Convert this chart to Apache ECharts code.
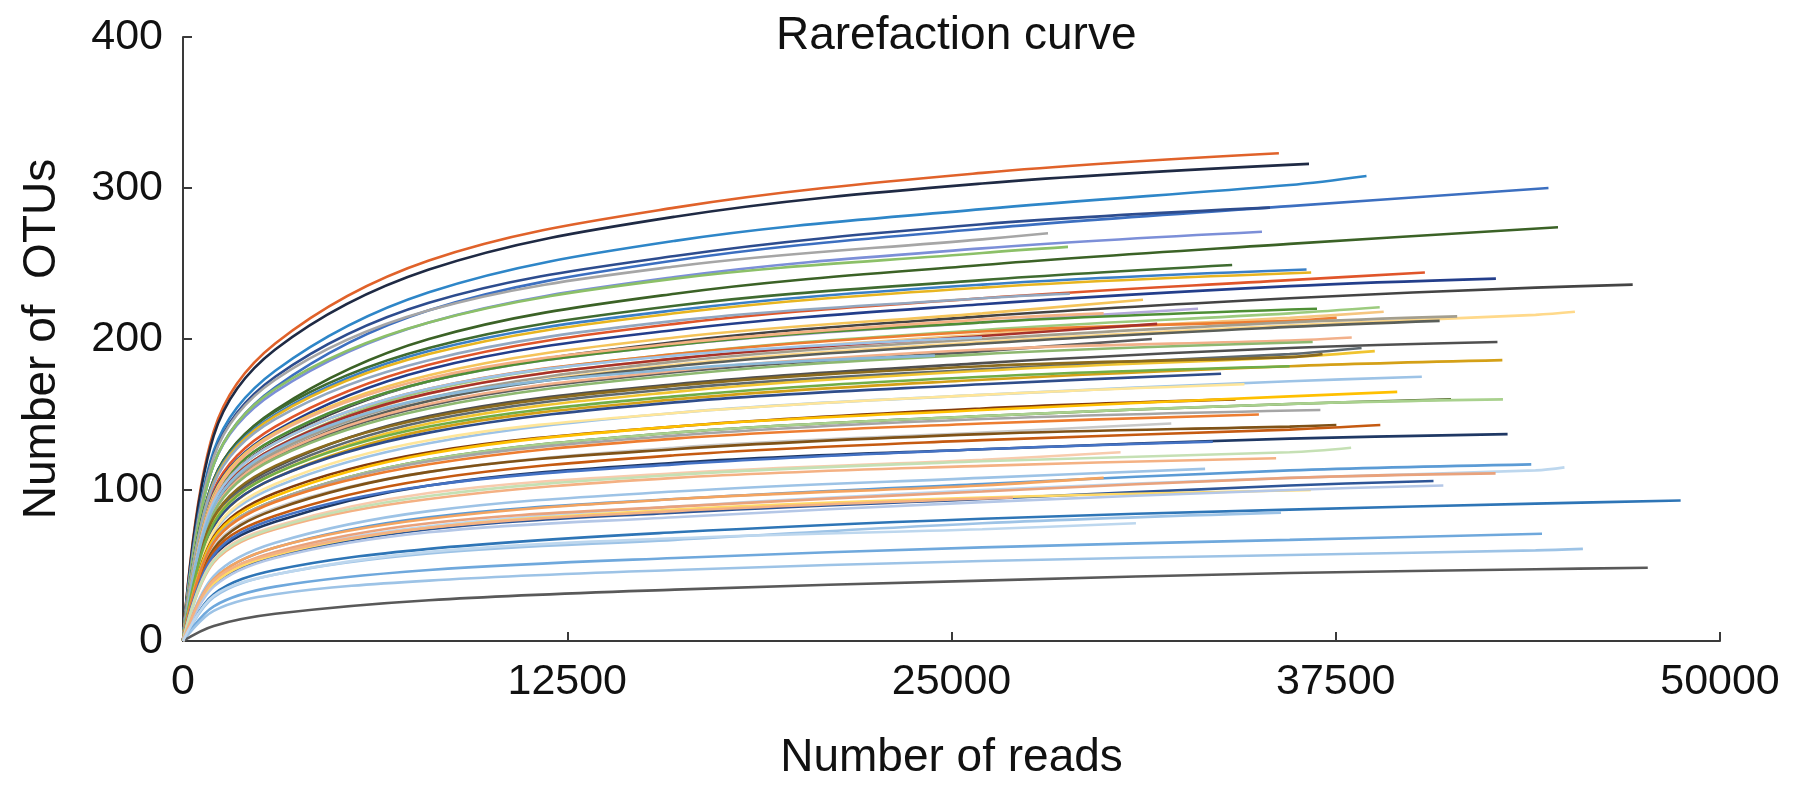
<!DOCTYPE html>
<html>
<head>
<meta charset="utf-8">
<script src="https://cdn.jsdelivr.net/npm/echarts@6/dist/echarts.min.js"></script>
<style>
html,body{margin:0;padding:0;background:#fff;}
#chart{width:1795px;height:789px;}
</style>
</head>
<body>
<div id="chart"></div>
<script>
const readsGrid = [1000, 3000, 8000, 16000, 26000, 36000, 44000];

// Last point of each curve (reads, OTUs)
const endReads = [35650,36630,38500,44420,35360,28140,35100,28790,44730,34130,
  36550,36700,40400,42710,47160,28850,31230,33020,36890,38930,
  39060,37530,45280,41450,40880,29950,31690,25990,31520,38020,
  36750,42760,38340,38770,37070,42920,33770,40300,34530,34240,
  41250,42940,32150,37520,38950,43090,35560,43860,44940,42700,
  33250,29950,40680,36690,48720,35720,44210,45540,47650,24460,
  36000,39500,37000,35000,33500,30500,38000,41000,27000,31000];
const endOtus = [323,316,308,300,287,270,271,261,274,249,
  246,244,244,240,236,230,226,220,220,221,
  218,214,218,215,212,217,210,201,200,201,
  198,198,194,192,190,186,177,175,170,160,
  160,160,144,143,143,137,121,117,115,111,
  114,108,106,100,93,85,71,61,48.5,189,
  182,165,153,150,132,125,128,103,95,78];

// OTU values of each curve at the readsGrid positions (as far as the curve reaches)
const gridOtus = [
  [139,197,252,287,310],[136,193,246,281,303],[126,179,231,265,286,302],[117,168,219,252,273,288],
  [123,175,224,255,276],[122,173,219,248,266],[117,165,211,241,260],[117,167,211,240,257],
  [107,153,200,230,249,263],[107,152,194,222,239],
  [106,150,192,219,236],[105,149,190,217,234],[100,142,183,210,227,239],[98,139,180,206,223,235],
  [92,132,172,198,215,227,234],[104,147,186,212,227],[97,138,176,201,217],[95,134,172,196,211],
  [95,134,172,196,211],[91,128,166,190,206,217],
  [89,126,164,187,203,214],[92,131,167,190,205,212],[85,122,159,183,198,209,216],[88,125,161,185,200,211],
  [87,123,159,182,197,208],[95,137,174,197,213],[90,128,164,187,202],[92,131,167,189],
  [86,122,156,178,192],[86,123,157,179,193,199],
  [85,121,154,176,190],[81,115,149,170,184,194],[80,113,146,167,180,190],[79,111,144,165,179,188],
  [82,116,148,169,182,188],[76,108,140,160,173,182],[76,108,138,158,170],[72,102,131,151,163,172],
  [73,104,133,151,163],[69,98,125,142,154],
  [66,93,120,138,149,157],[66,93,120,138,149,157],[62,88,112,128,138],[61,87,112,127,137,142],
  [59,83,107,123,133,140],[56,79,103,118,127,134],[52,74,94,108,116],[41,62,82,94,104,113],
  [38,58,76,89,100,108,113],[39,59,78,89,99,108],
  [43,65,86,99,108],[41,62,81,94,103],[37,56,74,85,94,103],[38,57,75,87,95],
  [31,47,61,72,81,87,91],[29,44,58,67,78],[23,36,47,55,62,67],[20,31,40,47,53,57,60],
  [10,18,27,34,40,45,47.5],[89,127,161,180],
  [78,111,142,162,175],[68,96,124,142,153,162],[66,93,119,136,147],[65,92,117,134,144],
  [57,81,103,117,127],[54,76,98,111,120],[53,75,96,110,119,125],[36,55,72,82,92,100],
  [40,58,75,86],[30,44,59,68,74]
];

const lineColors = ['#E0622A','#1F2A44','#2E86C8','#3C6FC0','#2D4C8E','#A6A6A6','#7C8FD8','#8CC068','#3B6226','#3F6B30',
  '#3A7FC6','#E8B520','#E0552A','#233E8B','#444444','#93A8C0','#F5C45A','#B4A9DA','#4E8F35','#9CCB7E',
  '#F6C680','#ED7D31','#FFD98A','#A39E8E','#5A5F5A','#F4B183','#A8322A','#9DC3E6','#5E5E5E','#F2B08A',
  '#8DB870','#505050','#5F6A70','#F0C430','#8B6B1E','#D4A017','#2F4D8A','#9DC3E6','#FFE699','#843C0C',
  '#556B2F','#A9D18E','#C9C9C9','#7F5217','#C55A11','#1F3864','#F4B183','#5B9BD5','#BDD7EE','#E9A27C',
  '#9DC3E6','#F4A460','#2E5597','#FFD966','#2E75B6','#9DC3E6','#6FA8DC','#9DC3E6','#595959','#8AB8D8',
  '#70AD47','#FFC000','#A5A5A5','#ED7D31','#4472C4','#F8CBAD','#C5E0B4','#B4C7E7','#F4B183','#BDD7EE'];

const xTicks = [0, 12500, 25000, 37500, 50000];
const yTicks = [0, 100, 200, 300, 400];

const series = endReads.map(function(e, i){
  const pts = [[0, 0]];
  gridOtus[i].forEach(function(v, j){ pts.push([readsGrid[j], v]); });
  pts.push([e, endOtus[i]]);
  return {
    type: 'line', data: pts, symbol: 'none', smooth: 0.35,
    lineStyle: {color: lineColors[i], width: 2.6}, silent: true, z: 2
  };
});

const FONT = "'Liberation Sans', Arial, sans-serif";
const chart = echarts.init(document.getElementById('chart'));
chart.setOption({
  animation: false,
  backgroundColor: '#ffffff',
  title: {
    text: 'Rarefaction curve', left: 771, top: 8,
    textStyle: {fontFamily: FONT, fontSize: 46, fontWeight: 'normal', color: '#111'}
  },
  grid: {left: 183, right: 75, top: 37, bottom: 148, containLabel: false},
  xAxis: {
    type: 'value', min: xTicks[0], max: xTicks[xTicks.length-1], interval: xTicks[1]-xTicks[0],
    name: 'Number of reads', nameLocation: 'middle', nameGap: 94,
    nameTextStyle: {fontFamily: FONT, fontSize: 46, color: '#111'},
    axisLine: {show: true, lineStyle: {color: '#3a3a3a', width: 2}},
    axisTick: {show: true, inside: true, length: 9, lineStyle: {color: '#3a3a3a', width: 2}},
    axisLabel: {fontFamily: FONT, fontSize: 43, color: '#111', margin: 20,
      formatter: function(v){ return String(v); }},
    splitLine: {show: false}
  },
  yAxis: {
    type: 'value', min: yTicks[0], max: yTicks[yTicks.length-1], interval: yTicks[1]-yTicks[0],
    name: 'Number of  OTUs', nameLocation: 'middle', nameGap: 118, nameRotate: 90,
    nameTextStyle: {fontFamily: FONT, fontSize: 46, color: '#111'},
    axisLine: {show: true, lineStyle: {color: '#3a3a3a', width: 2}},
    axisTick: {show: true, inside: true, length: 9, lineStyle: {color: '#3a3a3a', width: 2}},
    axisLabel: {fontFamily: FONT, fontSize: 43, color: '#111', margin: 20,
      formatter: function(v){ return String(v); }},
    splitLine: {show: false}
  },
  series: series
});
</script>
</body>
</html>
